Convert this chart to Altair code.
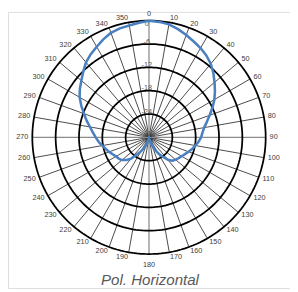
import altair as alt
import pandas as pd
import numpy as np

# ---- data ----
angles_deg = list(range(0, 360, 5))
gain_db = [0.0, -0.2, -0.5, -1.2, -2.0, -2.8, -3.5, -4.3, -5.3, -6.6,
           -8.0, -9.3, -10.6, -12.0, -13.4, -14.6, -15.6, -16.2, -16.6, -17.2,
           -17.9, -18.5, -19.2, -19.8, -20.3, -20.7, -21.1, -21.5, -22.5, -24.0,
           -25.3, -26.5, -27.8, -29.0, -30.0, -30.0, -30.0, -30.0, -30.0, -29.0,
           -28.0, -27.0, -25.8, -24.6, -22.8, -21.8, -20.9, -20.5, -20.2, -19.7,
           -19.1, -18.5, -17.8, -17.0, -16.3, -15.5, -14.6, -13.4, -12.2, -10.8,
           -9.4, -8.3, -7.3, -6.1, -4.8, -3.9, -3.1, -2.2, -1.4, -1.0,
           -0.8, -0.4]
ring_db = [-24, -18, -12, -6, 0]
radial_labels = ["-30", "-24", "-18", "-12", "-6", "0"]
radial_values = [-30, -24, -18, -12, -6, 0]
spoke_angles = list(range(0, 360, 10))
angle_labels = [str(a) for a in spoke_angles]
title_text = "Pol. Horizontal"

# ---- geometry helpers ----
DB_MIN = -30.0
PX = 4.0  # pixels per dB


def rad(db):
    return (max(db, DB_MIN) - DB_MIN) * PX


R_OUT = rad(0)

# trace
trace = []
for i, (a, g) in enumerate(list(zip(angles_deg, gain_db)) + [(angles_deg[0], gain_db[0])]):
    r = rad(g)
    t = np.radians(a)
    trace.append({"x": r * np.sin(t), "y": r * np.cos(t), "o": i})
trace_df = pd.DataFrame(trace)

# rings
ring_rows = []
for d in ring_db:
    r = rad(d)
    for k, a in enumerate(range(0, 362, 2)):
        t = np.radians(a)
        ring_rows.append({"x": r * np.sin(t), "y": r * np.cos(t), "o": k, "ring": str(d)})
ring_df = pd.DataFrame(ring_rows)

# spokes
spoke_rows = []
for a in spoke_angles:
    t = np.radians(a)
    spoke_rows.append({"x": 0.0, "y": 0.0, "x2": R_OUT * np.sin(t), "y2": R_OUT * np.cos(t),
                       "main": a % 90 == 0})
spoke_df = pd.DataFrame(spoke_rows)

# angle labels
FS = 7.5
lab_rows = []
for a, s in zip(spoke_angles, angle_labels):
    t = np.radians(a)
    sn, cs = np.sin(t), np.cos(t)
    hw = len(s) * 0.556 * FS / 2
    hh = 3.5
    if a == 0:
        cx, cy = 0.0, 126.5
    elif a == 180:
        cx, cy = 0.0, -131.0
    else:
        cx = 124 * sn + hw * np.sign(sn)
        cy = 121 * cs + hh * cs
    lab_rows.append({"x": cx, "y": cy, "t": s})
lab_df = pd.DataFrame(lab_rows)

# radial labels
rl_rows = []
for v, s in zip(radial_values, radial_labels):
    r = rad(v)
    if v == DB_MIN:
        x, y = 0.5, 3.7
    elif v == 0:
        x, y = -2.3, r - 3.5
    else:
        x, y = -2.3, r + 2.5
    rl_rows.append({"x": x, "y": y, "t": s})
rl_df = pd.DataFrame(rl_rows)

title_df = pd.DataFrame([{"x": 1.0, "y": -146.5, "t": title_text}])

W, H = 290, 284
CX, CY = 145, 129
xs = alt.Scale(domain=[-CX, W - CX], nice=False, zero=False)
ys = alt.Scale(domain=[CY - H, CY], nice=False, zero=False)

X = lambda f="x": alt.X(f, type="quantitative", scale=xs, axis=None)
Y = lambda f="y": alt.Y(f, type="quantitative", scale=ys, axis=None)

spokes = alt.Chart(spoke_df[~spoke_df["main"]]).mark_rule(color="#1a1a1a", strokeWidth=0.8).encode(
    x=X(), y=Y(), x2="x2", y2="y2")
main_spokes = alt.Chart(spoke_df[spoke_df["main"]]).mark_rule(color="#8c8c8c", strokeWidth=1.3).encode(
    x=X(), y=Y(), x2="x2", y2="y2")
rings = alt.Chart(ring_df).mark_line(color="#000000", strokeWidth=1.8).encode(
    x=X(), y=Y(), detail="ring:N", order="o:Q")
radial_txt = alt.Chart(rl_df).mark_text(fontSize=FS, color="#595959", font="Liberation Sans",
                                         align="center", baseline="middle").encode(x=X(), y=Y(), text="t:N")
trace_line = alt.Chart(trace_df).mark_line(color="#4a80c0", strokeWidth=2.6, strokeJoin="round").encode(
    x=X(), y=Y(), order="o:Q")
ang_txt = alt.Chart(lab_df).mark_text(fontSize=FS, color="#404040", font="Liberation Sans",
                                      align="center", baseline="middle").encode(x=X(), y=Y(), text="t:N")
title = alt.Chart(title_df).mark_text(fontSize=15.5, fontStyle="italic", color="#595959",
                                      font="Liberation Sans", align="center", baseline="middle").encode(
    x=X(), y=Y(), text="t:N")

chart = alt.layer(spokes, main_spokes, rings, radial_txt, trace_line, ang_txt, title).properties(
    width=W, height=H, padding=0, autosize=alt.AutoSizeParams(type="none")
).configure_view(stroke=None).configure(background="white")

chart.save("out.html", embed_options={"renderer": "svg", "actions": False})
